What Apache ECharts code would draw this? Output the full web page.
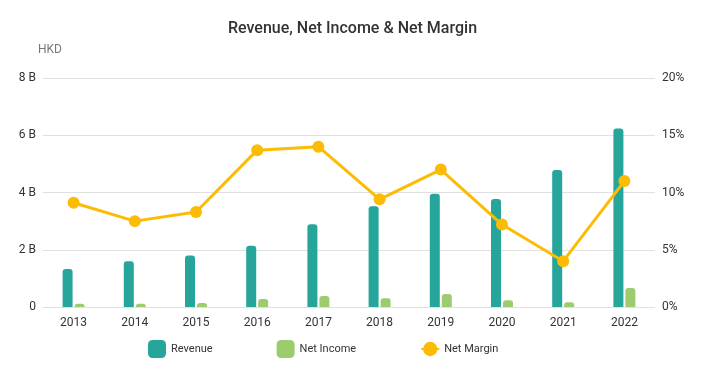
<!DOCTYPE html>
<html>
<head>
<meta charset="utf-8">
<script src="https://cdn.jsdelivr.net/npm/echarts@6/dist/echarts.min.js"></script>
<style>
  html, body { margin: 0; padding: 0; background: #fff; }
  #chart { width: 705px; height: 377px; }
</style>
</head>
<body>
<div id="chart"></div>
<script>
var years = ['2013', '2014', '2015', '2016', '2017', '2018', '2019', '2020', '2021', '2022'];
var revenue = [1.33, 1.6, 1.8, 2.14, 2.89, 3.52, 3.96, 3.77, 4.79, 6.24];     // billions HKD
var netIncome = [0.115, 0.115, 0.14, 0.28, 0.38, 0.31, 0.45, 0.24, 0.17, 0.66]; // billions HKD
var netMargin = [9.1, 7.5, 8.3, 13.7, 14.0, 9.4, 12.0, 7.2, 4.0, 11.0];        // percent

var font = 'Roboto, "Noto Sans", sans-serif';
var chart = echarts.init(document.getElementById('chart'), null, { renderer: 'canvas' });

chart.setOption({
  animation: false,
  textStyle: { fontFamily: font },
  title: [{
    text: 'Revenue, Net Income & Net Margin',
    left: 'center',
    top: 16,
    textStyle: { fontFamily: font, fontSize: 16, fontWeight: 500, color: '#333' }
  }, {
    text: 'HKD',
    left: 33,
    top: 39,
    textStyle: { fontFamily: font, fontSize: 12, fontWeight: 'normal', color: '#777' }
  }],
  legend: {
    bottom: 14,
    left: 143,
    itemGap: 64,
    itemWidth: 18,
    itemHeight: 18,
    textStyle: { fontFamily: font, fontSize: 11, color: '#333' },
    data: [
      { name: 'Revenue', icon: 'roundRect' },
      { name: 'Net Income', icon: 'roundRect' },
      { name: 'Net Margin' }
    ]
  },
  grid: { left: 43, right: 50, top: 78, bottom: 70 },
  xAxis: {
    type: 'category',
    data: years,
    axisLine: { show: false },
    axisTick: { show: false },
    axisLabel: { color: '#333', fontSize: 12, margin: 10 }
  },
  yAxis: [{
    type: 'value',
    min: 0,
    max: 8,
    interval: 2,
    axisLabel: {
      color: '#333',
      fontSize: 12,
      margin: 7,
      formatter: function (v) { return v === 0 ? '0' : v + ' B'; }
    },
    splitLine: { lineStyle: { color: '#e0e0e0' } }
  }, {
    type: 'value',
    min: 0,
    max: 20,
    interval: 5,
    axisLabel: { color: '#333', fontSize: 12, margin: 7, formatter: '{value}%' },
    splitLine: { show: false }
  }],
  series: [{
    name: 'Revenue',
    type: 'bar',
    data: revenue,
    barWidth: 10,
    barGap: '20%',
    itemStyle: { color: '#26a69a', borderRadius: [3, 3, 0, 0] }
  }, {
    name: 'Net Income',
    type: 'bar',
    data: netIncome,
    barWidth: 10,
    itemStyle: { color: '#9ccc6e', borderRadius: [3, 3, 0, 0] }
  }, {
    name: 'Net Margin',
    type: 'line',
    yAxisIndex: 1,
    data: netMargin,
    symbol: 'circle',
    symbolSize: 12,
    lineStyle: { color: '#fcbc04', width: 3 },
    itemStyle: { color: '#fcbc04' },
    z: 5
  }]
});
window.addEventListener('resize', function () { chart.resize(); });
</script>
</body>
</html>
